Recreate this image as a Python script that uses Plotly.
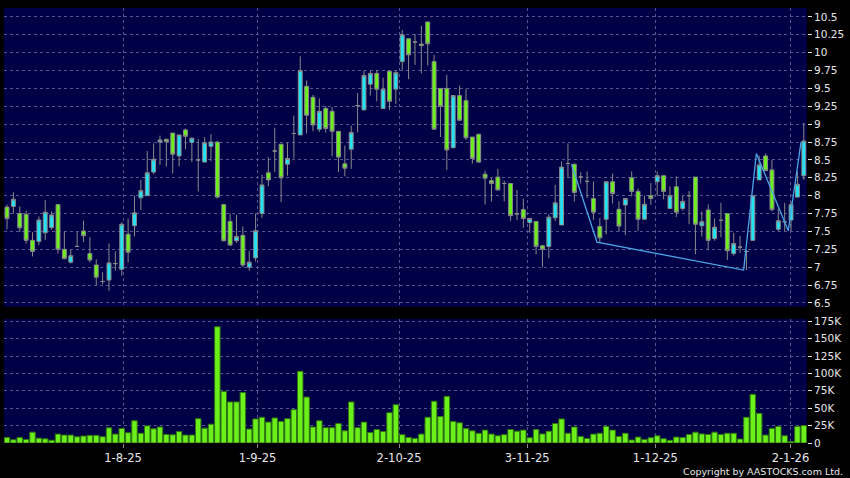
import plotly.graph_objects as go

# ---------------- data ----------------
opens = [7.84,7.85,7.75,7.74,7.375,7.36,7.48,7.555,7.875,7.25,
 7.07,7.29,7.505,7.19,7.03,6.80,6.82,7.05,6.97,7.46,
 7.58,7.97,8.0,8.33,8.75,8.79,8.875,8.556,8.92,8.745,
 8.5,8.47,8.69,8.75,7.875,7.64,7.37,7.445,7.0,7.13,
 7.75,8.32,8.625,8.72,8.44,8.87,8.85,9.53,9.375,8.93,
 9.22,9.18,8.90,8.445,8.65,9.26,9.20,9.56,9.71,9.22,
 9.74,9.49,9.875,10.195,10.15,10.12,10.43,9.875,9.5,9.5,
 8.67,9.40,9.33,8.82,8.86,8.30,8.21,8.26,8.17,8.17,
 7.745,7.805,7.625,7.64,7.30,7.29,7.69,7.59,8.45,8.44,
 8.26,8.20,7.96,7.57,7.67,8.195,7.81,7.87,8.25,8.06,
 7.67,8.0,8.195,8.28,7.82,8.125,7.82,8.0,8.26,7.58,
 7.80,7.40,7.655,7.75,7.19,7.28,7.22,7.375,8.22,8.555,
 8.36,7.53,7.635,7.66,7.98,8.28]

highs = [7.875,8.05,7.85,7.79,7.49,7.71,7.94,7.78,7.875,7.50,
 7.25,7.49,7.65,7.42,7.11,6.93,7.33,7.22,7.63,7.68,
 8.0,8.22,8.625,8.73,8.84,8.79,8.875,8.85,8.94,8.81,
 8.79,8.82,8.86,8.76,7.875,7.75,7.73,7.57,7.23,7.75,
 8.29,8.54,8.95,8.72,8.74,9.12,9.95,9.61,9.41,9.36,
 9.25,9.24,8.90,8.70,8.98,9.435,9.75,9.75,9.76,9.65,
 9.75,9.75,10.32,10.195,10.26,10.375,10.43,9.97,9.5,9.69,
 9.40,9.54,9.49,8.82,8.86,8.35,8.245,8.375,8.21,8.17,
 8.08,7.96,7.68,7.64,7.30,7.74,8.15,8.48,8.73,8.45,
 8.33,8.34,8.20,7.685,8.20,8.31,7.92,7.96,8.34,8.10,
 8.0,8.18,8.34,8.28,8.13,8.27,8.0,8.065,8.26,7.78,
 7.88,7.68,7.90,7.75,7.48,7.435,7.245,8.0,8.56,8.59,
 8.50,7.82,7.90,7.92,8.34,9.02]

lows = [7.53,7.75,7.49,7.33,7.15,7.31,7.38,7.52,7.19,7.11,
 7.05,7.28,7.35,7.065,6.75,6.76,6.67,6.95,6.88,7.065,
 7.43,7.80,8.0,8.30,8.43,8.41,8.31,8.41,8.65,8.47,
 8.06,8.47,8.48,7.96,7.36,7.30,7.34,7.0,6.95,7.08,
 7.69,8.13,8.33,7.91,8.28,8.52,8.85,8.87,8.90,8.89,
 8.88,8.55,8.33,8.27,8.375,8.885,9.20,9.40,9.32,9.22,
 9.20,9.28,9.76,9.63,9.83,9.71,9.82,8.93,8.82,8.36,
 8.67,9.05,8.78,8.45,8.46,7.875,7.92,8.08,7.92,7.65,
 7.66,7.55,7.48,7.18,7.0,7.125,7.645,7.59,8.245,7.92,
 8.17,7.97,7.66,7.35,7.46,7.89,7.50,7.45,7.99,7.51,
 7.67,7.87,8.0,7.95,7.82,7.70,7.79,7.60,7.18,7.43,
 7.24,7.37,7.42,7.10,7.16,7.20,6.96,7.375,8.22,8.35,
 7.78,7.50,7.505,7.505,7.98,8.22]

closes = [7.68,7.95,7.55,7.375,7.22,7.66,7.77,7.73,7.25,7.12,
 7.16,7.29,7.44,7.10,6.86,6.80,7.06,7.05,7.60,7.21,
 7.76,8.07,8.32,8.51,8.78,8.755,8.58,8.85,8.83,8.805,
 8.5,8.74,8.75,7.98,7.37,7.31,7.43,7.03,7.07,7.51,
 8.15,8.22,8.625,8.25,8.52,8.87,9.75,9.125,8.99,9.18,
 8.94,8.90,8.54,8.385,8.885,9.26,9.68,9.71,9.49,9.49,
 9.32,9.72,10.25,9.97,10.15,10.10,10.125,8.93,9.25,8.64,
 9.40,9.055,8.81,8.52,8.47,8.245,8.17,8.08,8.17,7.72,
 7.745,7.68,7.68,7.29,7.25,7.70,7.90,8.40,8.45,8.045,
 8.26,8.20,7.77,7.41,8.195,8.03,7.575,7.96,8.06,7.67,
 7.88,7.96,8.28,8.06,8.0,7.77,7.92,8.0,7.60,7.635,
 7.375,7.56,7.655,7.23,7.33,7.28,7.22,8.0,8.43,8.35,
 7.805,7.65,7.635,7.875,8.16,8.765]

volumes_k = [8,4.7,8,5,15.6,7,6,4,12.8,11.4,
 11.4,9,10,11,11,9,21.8,12.8,20.8,14.7,
 32,14,24.6,20.4,23,12.3,11.8,16.6,11.4,11.4,
 35,21.3,27,167,74,59,59,72.4,20,34.6,
 37,30,36,31,35,48,103,66,23,32,
 22,22,28,17.5,59,22,30,15,19.4,16.6,
 43.6,55,12,8,6.6,12.8,37,60,38,67,
 31,29,21,17.5,14,18.5,12.8,10.4,12,19.4,
 17,18.5,7.6,19.4,13,17,28,34.6,14,23,
 9.5,6.6,12.8,14,24,18.5,9.5,14,4.3,8.5,
 5.2,7.6,10.4,6.2,3.8,8.5,8,12.3,15.6,13,
 12.3,15.6,12.3,14,14,5.7,37,70,42.6,11.4,
 21,23.7,10.4,2,23.7,25]

date_tick_pos = [18.2, 39.3, 61.5, 81.6, 101.7, 122.9]
date_tick_labels = ["1-8-25", "1-9-25", "2-10-25", "3-11-25", "1-12-25", "2-1-26"]

price_tick_labels = ["6.5", "6.75", "7", "7.25", "7.5", "7.75", "8", "8.25", "8.5",
                     "8.75", "9", "9.25", "9.5", "9.75", "10", "10.25", "10.5"]
price_ticks = [float(s) for s in price_tick_labels]

vol_tick_labels = ["0", "25K", "50K", "75K", "100K", "125K", "150K", "175K"]
vol_ticks = [0, 25000, 50000, 75000, 100000, 125000, 150000, 175000]

# zigzag indicator vertices (candle index, price)
zz_idx = [89, 93, 116, 118, 123, 125]
zz_price = [8.44, 7.35, 6.96, 8.59, 7.51, 8.75]
ZZ_SHIFT = -0.44

# ---------------- styling ----------------
BG = "#000000"
PLOT_BG = "#000046"
GRID = "#56568e"
UP = "#22e2f4"
DOWN = "#6cf01c"
WICK = "#8a8a8a"
TXT = "#e6e6e6"
FONT = "DejaVu Sans"

x = list(range(len(opens)))

fig = go.Figure()
fig.add_trace(go.Candlestick(
    x=x, open=opens, high=highs, low=lows, close=closes,
    increasing=dict(line=dict(color=WICK, width=1), fillcolor=UP),
    decreasing=dict(line=dict(color=WICK, width=1), fillcolor=DOWN),
    whiskerwidth=0, xaxis="x", yaxis="y", showlegend=False, hoverinfo="skip"))
fig.add_trace(go.Scatter(
    x=[i + ZZ_SHIFT for i in zz_idx], y=zz_price, mode="lines",
    line=dict(color="#4aa6e6", width=1.3), xaxis="x", yaxis="y",
    showlegend=False, hoverinfo="skip"))
fig.add_trace(go.Bar(
    x=x, y=[v * 1000 for v in volumes_k],
    marker=dict(color=DOWN, line=dict(color="#2f7410", width=1)),
    xaxis="x2", yaxis="y2", showlegend=False, hoverinfo="skip"))

xr = [-0.47, 125.5]
common_x = dict(range=xr, tickvals=date_tick_pos, ticktext=date_tick_labels,
                showgrid=True, gridcolor=GRID, griddash="3px,3px", gridwidth=1,
                zeroline=False, showline=False)
fig.update_layout(
    width=850, height=478,
    margin=dict(l=4, r=43, t=5, b=35),
    paper_bgcolor=BG, plot_bgcolor=PLOT_BG,
    font=dict(family=FONT, color=TXT, size=11),
    boxgap=0.13, bargap=0.14,
    xaxis=dict(domain=[0, 1], anchor="y", showticklabels=False, ticks="",
               rangeslider=dict(visible=False), **common_x),
    xaxis2=dict(domain=[0, 1], anchor="y2", matches="x", showticklabels=True,
                ticks="outside", ticklen=4, tickcolor=WICK,
                tickfont=dict(family=FONT, size=11.5, color=TXT),
                **common_x),
    yaxis=dict(domain=[0.3128, 1], range=[6.444, 10.625], side="right",
               tickvals=price_ticks, ticktext=price_tick_labels,
               ticks="outside", ticklen=4, tickcolor=TXT,
               tickfont=dict(family=FONT, size=10.5, color=TXT),
               showgrid=True, gridcolor=GRID, griddash="3px,3px",
               zeroline=False, showline=False),
    yaxis2=dict(domain=[0, 0.2854], range=[0, 178400], side="right",
                tickvals=vol_ticks, ticktext=vol_tick_labels,
                ticks="outside", ticklen=4, tickcolor=TXT,
                tickfont=dict(family=FONT, size=10.5, color=TXT),
                showgrid=True, gridcolor=GRID, griddash="3px,3px",
                zeroline=False, showline=False),
    annotations=[dict(text="Copyright by AASTOCKS.com Ltd.", xref="paper", yref="paper",
                      x=1.0473, y=-0.066, xanchor="right", yanchor="middle",
                      showarrow=False, font=dict(family=FONT, size=9.5, color=TXT))],
)

fig.write_html("out.html",
               config={"displayModeBar": False, "staticPlot": True},
               post_script="document.body.style.margin='0';document.body.style.background='#000';")
